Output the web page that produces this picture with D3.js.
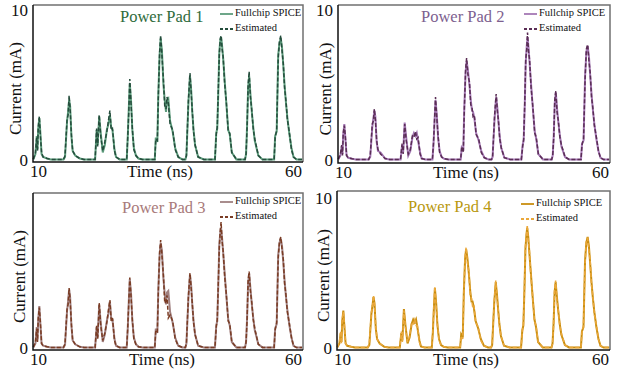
<!DOCTYPE html>
<html>
<head>
<meta charset="utf-8">
<script src="https://cdn.jsdelivr.net/npm/d3@7"></script>
<style>
  body { margin: 0; background: #fff; }
  text { font-family: "Liberation Serif", "Times New Roman", serif; }
</style>
</head>
<body>
<div id="chart"></div>
<script>
// shared time samples (ns)
var times = [
  9.1, 9.5, 9.75, 9.9, 10.05, 10.26, 10.45, 10.7, 11.0, 11.8, 12.5,
  15.0, 15.3, 15.7, 15.9, 16.1, 16.3, 16.55, 16.8, 17.3, 18.2, 19.0,
  21.2, 21.5, 21.7, 22.0, 22.3, 22.7, 23.1, 23.5, 23.8, 24.1, 24.35, 24.6, 25.0, 25.3, 26.0,
  27.4, 27.6, 27.8, 28.0, 28.25, 28.5, 28.8, 29.2, 29.7, 30.5,
  32.9, 33.1, 33.4, 33.6, 33.85, 34.05, 34.3, 34.6, 34.85, 35.1, 35.3, 35.55, 35.9, 36.4, 36.9, 37.5, 38.3,
  38.9, 39.1, 39.5, 39.8, 40.05, 40.25, 40.5, 40.8, 41.4, 42.5,
  44.7, 44.95, 45.15, 45.35, 45.55, 45.75, 45.9, 46.1, 46.3, 46.6, 46.9, 47.3, 47.6, 48.0, 48.9,
  50.6, 50.8, 51.0, 51.2, 51.4, 51.65, 51.9, 52.2, 52.5, 53.2, 54.0,
  56.3, 56.5, 56.8, 57.1, 57.35, 57.6, 57.85, 58.1, 58.35, 58.6, 58.9, 59.3, 59.7, 60.1, 60.7, 61.8
];

// current (mA) per pad
var pad1Spice = [
  0.05, 0.4, 1.6, 0.7, 2.1, 2.8, 1.9, 0.4, 0.2, 0.1, 0.04,
  0.04, 0.2, 2.6, 3.2, 4.0, 3.6, 1.6, 0.6, 0.3, 0.1, 0.04,
  0.04, 2.0, 1.0, 2.9, 1.8, 0.5, 1.0, 2.0, 2.4, 3.0, 2.2, 2.0, 0.7, 0.2, 0.04,
  0.04, 1.5, 3.4, 5.1, 3.9, 2.0, 0.8, 0.3, 0.1, 0.04,
  0.04, 1.5, 1.2, 4.5, 7.0, 8.1, 7.3, 5.0, 4.0, 3.2, 4.0, 4.1, 2.6, 1.9, 0.8, 0.2, 0.04,
  0.04, 0.3, 3.9, 5.6, 4.6, 3.2, 2.0, 1.0, 0.2, 0.04,
  0.04, 1.8, 2.1, 4.5, 7.2, 8.0, 8.2, 7.6, 6.8, 5.3, 3.9, 2.0, 1.7, 0.5, 0.04,
  0.04, 0.4, 2.3, 4.8, 5.6, 4.4, 3.3, 2.2, 1.3, 0.3, 0.04,
  0.04, 1.6, 1.9, 7.0, 7.8, 8.1, 7.5, 6.3, 5.0, 3.9, 2.8, 1.7, 0.8, 0.2, 0.03, 0.03
];
var pad1Est = [
  0.05, 0.5, 1.5, 0.6, 2.2, 2.9, 1.7, 0.5, 0.2, 0.1, 0.04,
  0.04, 0.3, 2.7, 3.0, 4.3, 3.4, 1.7, 0.6, 0.3, 0.1, 0.04,
  0.04, 2.1, 0.9, 3.0, 1.6, 0.6, 1.2, 1.9, 2.6, 3.3, 2.0, 2.1, 0.6, 0.2, 0.04,
  0.04, 1.6, 3.2, 5.4, 3.7, 2.1, 0.7, 0.3, 0.1, 0.04,
  0.04, 1.4, 1.3, 4.3, 7.2, 8.3, 7.0, 5.3, 3.6, 3.4, 4.2, 3.8, 2.4, 2.0, 0.7, 0.2, 0.04,
  0.04, 0.3, 4.0, 5.8, 4.4, 3.3, 1.9, 1.0, 0.2, 0.04,
  0.04, 1.7, 2.2, 4.6, 7.0, 8.1, 8.3, 7.4, 6.9, 5.1, 4.0, 1.9, 1.8, 0.5, 0.04,
  0.04, 0.4, 2.2, 5.0, 5.9, 4.2, 3.4, 2.1, 1.4, 0.3, 0.04,
  0.04, 1.5, 2.0, 6.8, 7.9, 8.3, 7.3, 6.4, 4.8, 4.0, 2.7, 1.8, 0.7, 0.2, 0.03, 0.03
];
var pad2Spice = [
  0.05, 0.3, 0.9, 0.4, 1.7, 2.4, 1.5, 0.3, 0.15, 0.08, 0.04,
  0.04, 0.2, 2.2, 2.7, 3.3, 2.9, 1.2, 0.6, 0.5, 0.1, 0.04,
  0.04, 1.0, 0.5, 2.5, 1.5, 0.3, 0.6, 1.5, 1.8, 1.6, 1.8, 1.3, 0.5, 0.1, 0.04,
  0.04, 1.0, 2.5, 4.0, 3.0, 1.5, 0.6, 0.2, 0.08, 0.04,
  0.04, 0.8, 0.6, 3.5, 5.8, 6.6, 6.0, 5.0, 4.0, 3.3, 3.2, 2.8, 1.8, 1.3, 0.6, 0.15, 0.04,
  0.04, 0.2, 2.8, 4.2, 3.4, 2.5, 1.5, 0.8, 0.15, 0.04,
  0.04, 1.0, 1.3, 3.5, 6.5, 7.6, 8.2, 7.5, 6.5, 5.0, 3.6, 1.9, 1.4, 0.4, 0.04,
  0.04, 0.3, 1.6, 3.8, 4.5, 3.4, 2.5, 1.6, 0.9, 0.2, 0.04,
  0.04, 1.1, 1.3, 5.6, 7.2, 7.6, 6.9, 5.6, 4.4, 3.4, 2.4, 1.4, 0.6, 0.15, 0.03, 0.03
];
var pad2Est = [
  0.05, 0.4, 1.0, 0.3, 1.8, 2.3, 1.6, 0.3, 0.15, 0.08, 0.04,
  0.04, 0.3, 2.4, 2.6, 3.4, 2.7, 1.3, 0.7, 0.4, 0.1, 0.04,
  0.04, 1.1, 0.4, 2.4, 1.3, 0.4, 0.7, 1.6, 1.5, 1.9, 1.4, 1.5, 0.4, 0.1, 0.04,
  0.04, 1.1, 2.6, 4.2, 2.8, 1.6, 0.5, 0.2, 0.08, 0.04,
  0.04, 0.9, 0.5, 3.3, 6.0, 6.8, 5.7, 5.2, 3.7, 3.5, 2.9, 3.0, 1.7, 1.4, 0.5, 0.15, 0.04,
  0.04, 0.2, 3.0, 4.4, 3.2, 2.6, 1.4, 0.8, 0.15, 0.04,
  0.04, 0.9, 1.4, 3.7, 6.7, 7.4, 8.5, 7.2, 6.7, 4.8, 3.7, 1.8, 1.5, 0.4, 0.04,
  0.04, 0.3, 1.5, 4.0, 4.6, 3.2, 2.6, 1.5, 1.0, 0.2, 0.04,
  0.04, 1.0, 1.4, 5.4, 7.4, 7.7, 6.6, 5.8, 4.2, 3.5, 2.3, 1.5, 0.6, 0.15, 0.03, 0.03
];
var pad3Spice = [
  0.05, 0.3, 1.4, 0.5, 1.9, 2.8, 1.7, 0.3, 0.15, 0.08, 0.04,
  0.04, 0.2, 2.5, 3.1, 3.9, 3.4, 1.5, 0.5, 0.25, 0.08, 0.04,
  0.04, 1.4, 0.7, 2.9, 1.7, 0.4, 0.9, 1.8, 2.3, 3.1, 2.0, 1.9, 0.6, 0.15, 0.04,
  0.04, 1.3, 3.1, 4.6, 3.6, 1.8, 0.7, 0.25, 0.08, 0.04,
  0.04, 1.3, 1.0, 4.0, 6.2, 7.0, 6.5, 4.6, 3.6, 2.9, 3.7, 3.8, 2.4, 1.7, 0.7, 0.15, 0.04,
  0.04, 0.3, 3.4, 4.9, 4.1, 2.9, 1.8, 0.9, 0.15, 0.04,
  0.04, 1.5, 1.8, 4.2, 6.9, 7.7, 8.0, 7.3, 6.4, 5.0, 3.6, 1.9, 1.5, 0.4, 0.04,
  0.04, 0.4, 2.0, 4.3, 5.0, 4.0, 3.0, 2.0, 1.2, 0.25, 0.04,
  0.04, 1.3, 1.6, 6.2, 7.0, 7.3, 6.8, 5.7, 4.5, 3.5, 2.5, 1.5, 0.7, 0.15, 0.03, 0.03
];
var pad3Est = [
  0.05, 0.4, 1.3, 0.4, 2.0, 2.7, 1.8, 0.3, 0.15, 0.08, 0.04,
  0.04, 0.3, 2.6, 2.9, 4.0, 3.2, 1.6, 0.5, 0.25, 0.08, 0.04,
  0.04, 1.5, 0.6, 3.0, 1.5, 0.5, 1.0, 1.7, 2.5, 3.2, 1.8, 2.0, 0.5, 0.15, 0.04,
  0.04, 1.4, 3.0, 4.7, 3.4, 1.9, 0.6, 0.25, 0.08, 0.04,
  0.04, 1.2, 1.1, 3.8, 6.4, 7.2, 6.2, 4.8, 3.0, 3.1, 3.5, 2.0, 2.2, 1.8, 0.6, 0.15, 0.04,
  0.04, 0.3, 3.5, 5.0, 3.9, 3.0, 1.7, 0.9, 0.15, 0.04,
  0.04, 1.4, 1.9, 4.3, 6.7, 7.9, 8.4, 7.1, 6.5, 4.8, 3.7, 1.8, 1.6, 0.4, 0.04,
  0.04, 0.4, 1.9, 4.5, 5.1, 3.8, 3.1, 1.9, 1.3, 0.25, 0.04,
  0.04, 1.2, 1.7, 6.0, 7.1, 7.4, 6.6, 5.9, 4.3, 3.6, 2.4, 1.6, 0.7, 0.15, 0.03, 0.03
];
var pad4Spice = [
  0.05, 0.3, 1.0, 0.4, 1.8, 2.5, 1.5, 0.3, 0.15, 0.08, 0.04,
  0.04, 0.2, 2.3, 2.8, 3.4, 3.0, 1.3, 0.6, 0.3, 0.08, 0.04,
  0.04, 1.0, 0.5, 2.6, 1.5, 0.3, 0.7, 1.6, 1.9, 1.7, 1.9, 1.4, 0.5, 0.1, 0.04,
  0.04, 1.0, 2.6, 4.0, 3.0, 1.5, 0.6, 0.2, 0.08, 0.04,
  0.04, 0.9, 0.7, 3.6, 5.9, 6.6, 6.0, 4.9, 3.8, 3.1, 3.1, 2.7, 1.8, 1.3, 0.6, 0.15, 0.04,
  0.04, 0.2, 3.0, 4.4, 3.5, 2.6, 1.6, 0.8, 0.15, 0.04,
  0.04, 1.2, 1.5, 3.8, 6.6, 7.6, 8.0, 7.4, 6.4, 5.0, 3.6, 1.9, 1.4, 0.4, 0.04,
  0.04, 0.3, 1.6, 3.7, 4.4, 3.4, 2.5, 1.6, 0.9, 0.2, 0.04,
  0.04, 1.1, 1.4, 5.8, 7.0, 7.4, 6.8, 5.6, 4.4, 3.4, 2.4, 1.4, 0.6, 0.15, 0.03, 0.03
];
var pad4Est = [
  0.05, 0.4, 1.1, 0.3, 1.9, 2.4, 1.6, 0.3, 0.15, 0.08, 0.04,
  0.04, 0.3, 2.4, 2.7, 3.5, 2.8, 1.4, 0.6, 0.3, 0.08, 0.04,
  0.04, 1.1, 0.4, 2.5, 1.4, 0.4, 0.8, 1.7, 1.6, 1.9, 1.5, 1.5, 0.4, 0.1, 0.04,
  0.04, 1.1, 2.7, 4.1, 2.8, 1.6, 0.5, 0.2, 0.08, 0.04,
  0.04, 0.8, 0.6, 3.4, 6.1, 6.7, 5.7, 5.1, 3.5, 3.3, 2.8, 2.9, 1.7, 1.4, 0.5, 0.15, 0.04,
  0.04, 0.2, 3.1, 4.5, 3.3, 2.7, 1.5, 0.8, 0.15, 0.04,
  0.04, 1.1, 1.6, 3.9, 6.8, 7.4, 8.2, 7.1, 6.6, 4.8, 3.7, 1.8, 1.5, 0.4, 0.04,
  0.04, 0.3, 1.5, 3.9, 4.5, 3.2, 2.6, 1.5, 1.0, 0.2, 0.04,
  0.04, 1.0, 1.5, 5.6, 7.2, 7.3, 6.5, 5.8, 4.2, 3.5, 2.3, 1.5, 0.6, 0.15, 0.03, 0.03
];

var titles = ["Power Pad 1", "Power Pad 2", "Power Pad 3", "Power Pad 4"];
var legendLabels = ["Fullchip SPICE", "Estimated"];
var xTicks = [10, 60];
var yTicks = [[0, 10], [0, 10], [0], [0, 10]];
var spiceSeries = [pad1Spice, pad2Spice, pad3Spice, pad4Spice];
var estSeries = [pad1Est, pad2Est, pad3Est, pad4Est];

// layout + colours of each panel
var panels = [
  { l: 33,  r: 303, t: 5,   b: 162, y0: 160, titleX: 120, titleY: 22,  legX: 220, legY: 14,  ylabX: 17,  xlabX: 160,
    title: "#2f6b3c", solid: "#5d9c7c", dash: "#244d3c" },
  { l: 338, r: 610, t: 5,   b: 163, y0: 160, titleX: 421, titleY: 22,  legX: 524, legY: 14,  ylabX: 327, xlabX: 466,
    title: "#7d5f8f", solid: "#a478b4", dash: "#5a2d55" },
  { l: 33,  r: 303, t: 193, b: 350, y0: 348, titleX: 122, titleY: 213, legX: 220, legY: 202, ylabX: 21,  xlabX: 162,
    title: "#a87a7a", solid: "#a08080", dash: "#7a3c24" },
  { l: 337, r: 610, t: 191, b: 350, y0: 348, titleX: 408, titleY: 212, legX: 521, legY: 204, ylabX: 325, xlabX: 466,
    title: "#b8980e", solid: "#c98e10", dash: "#eaa83c" }
];

var svg = d3.select("#chart").append("svg")
  .attr("width", 618).attr("height", 371)
  .style("background", "#fff");

panels.forEach(function (p, i) {
  var x = d3.scaleLinear().domain([10, 60]).range([p.l + 5, p.r - 10]);
  var y = d3.scaleLinear().domain([0, 10]).range([p.y0, p.y0 - 150]);
  var g = svg.append("g");

  var line = d3.line()
    .x(function (d, k) { return x(times[k]); })
    .y(function (d) { return y(d); })
    .curve(d3.curveLinear);

  g.append("path").attr("d", line(spiceSeries[i]))
    .attr("fill", "none").attr("stroke", p.solid).attr("stroke-width", 2);
  g.append("path").attr("d", line(estSeries[i]))
    .attr("fill", "none").attr("stroke", p.dash).attr("stroke-width", 1.5)
    .attr("stroke-dasharray", "4,2");

  // frame: grey top/right, black left/bottom
  g.append("path").attr("d", "M" + p.l + "," + p.t + "H" + p.r + "V" + p.b)
    .attr("fill", "none").attr("stroke", "#707070").attr("stroke-width", 1.5);
  g.append("path").attr("d", "M" + p.l + "," + p.t + "V" + p.b + "H" + p.r)
    .attr("fill", "none").attr("stroke", "#111").attr("stroke-width", 1.5);

  // tick labels
  var xa = g.append("g").attr("transform", "translate(0," + p.b + ")")
    .call(d3.axisBottom(x).tickValues(xTicks).tickSize(0).tickPadding(3).tickFormat(d3.format("d")));
  var ya = g.append("g").attr("transform", "translate(" + p.l + ",0)")
    .call(d3.axisLeft(y).tickValues(yTicks[i]).tickSize(0).tickPadding(5).tickFormat(d3.format("d")));
  [xa, ya].forEach(function (a) {
    a.select(".domain").remove();
    a.selectAll("text").attr("font-size", 17).attr("fill", "#111")
      .style("font-family", "'Liberation Serif', serif");
  });

  g.append("text").attr("x", p.xlabX).attr("y", p.b + 15).attr("text-anchor", "middle")
    .attr("font-size", 17).attr("fill", "#111").text("Time (ns)");
  g.append("text").attr("transform", "translate(" + p.ylabX + "," + ((p.t + p.b) / 2 + 5) + ") rotate(-90)")
    .attr("text-anchor", "middle").attr("dominant-baseline", "middle")
    .attr("font-size", 17).attr("fill", "#111").text("Current (mA)");

  g.append("text").attr("x", p.titleX).attr("y", p.titleY)
    .attr("font-size", 16.5).attr("fill", p.title).text(titles[i]);

  // legend
  var lg = g.append("g").attr("transform", "translate(" + p.legX + "," + p.legY + ")");
  [0, 1].forEach(function (k) {
    lg.append("line").attr("x1", 0).attr("x2", 13).attr("y1", k * 15).attr("y2", k * 15)
      .attr("stroke", k === 0 ? p.solid : p.dash).attr("stroke-width", 1.8)
      .attr("stroke-dasharray", k === 0 ? null : "3,2");
    lg.append("text").attr("x", 15).attr("y", k * 15).attr("dominant-baseline", "middle")
      .attr("font-size", 10.5).attr("fill", "#111").text(legendLabels[k]);
  });
});
</script>
</body>
</html>
